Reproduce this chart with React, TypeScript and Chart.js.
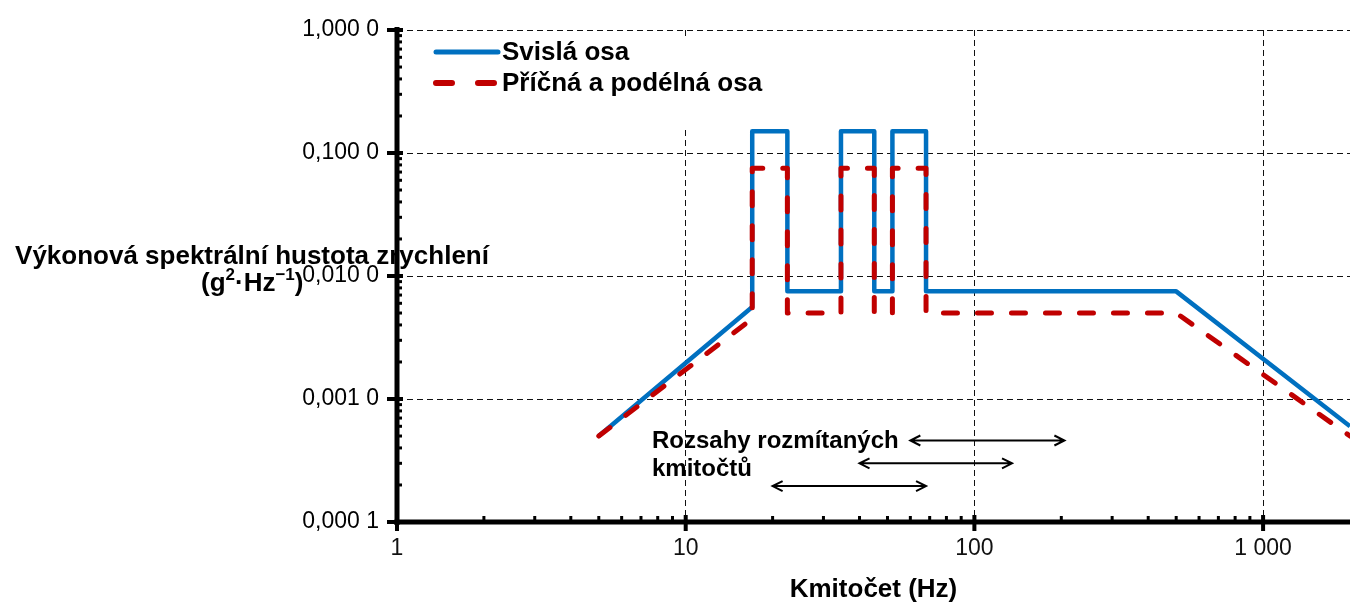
import React, { useEffect, useRef } from "react";
import { Chart, registerables } from "chart.js";

Chart.register(...registerables);

// ---- data ----
const freqHz = [5, 17, 17, 22.5, 22.5, 34.5, 34.5, 45, 45, 52, 52, 68, 68, 500, 2000];
const verticalPsd = [0.0005, 0.0056, 0.15, 0.15, 0.0075, 0.0075, 0.15, 0.15, 0.0075, 0.0075, 0.15, 0.15, 0.0075, 0.0075, 0.0006];
const transversePsd = [0.0005, 0.0045, 0.075, 0.075, 0.005, 0.005, 0.075, 0.075, 0.005, 0.005, 0.075, 0.075, 0.005, 0.005, 0.0005];
const seriesLabels = ["Svislá osa", "Příčná a podélná osa"];

const xTickValues = [1, 2, 3, 4, 5, 6, 7, 8, 9, 10, 20, 30, 40, 50, 60, 70, 80, 90, 100, 200, 300, 400, 500, 600, 700, 800, 900, 1000, 2000];
const xMajorValues = [1, 10, 100, 1000];
const xMajorLabels = ["1", "10", "100", "1 000"];
const yTickValues = [0.0001, 0.0002, 0.0003, 0.0004, 0.0005, 0.0006, 0.0007, 0.0008, 0.0009, 0.001, 0.002, 0.003, 0.004, 0.005, 0.006, 0.007, 0.008, 0.009, 0.01, 0.02, 0.03, 0.04, 0.05, 0.06, 0.07, 0.08, 0.09, 0.1, 0.2, 0.3, 0.4, 0.5, 0.6, 0.7, 0.8, 0.9, 1];
const yMajorValues = [0.0001, 0.001, 0.01, 0.1, 1];
const yMajorLabels = ["0,000 1", "0,001 0", "0,010 0", "0,100 0", "1,000 0"];

const sweepStartHz = [60, 40, 20];
const sweepEndHz = [205, 135, 68];
const sweepLevel = [0.00046, 0.0003, 0.000196];
const sweepText = ["Rozsahy rozmítaných", "kmitočtů"];

const xTitle = "Kmitočet (Hz)";
const yTitleLine1 = "Výkonová spektrální hustota zrychlení";
// second line pieces: [text, isSuperscript]
const yTitleLine2: [string, boolean][] = [["(g", false], ["2", true], ["·Hz", false], ["−1", true], [")", false]];

const BLUE = "#0070C0";
const RED = "#C00000";
const FONT = '"Liberation Sans", Arial, Helvetica, sans-serif';

const isMajor = (v: number, majors: number[]) => majors.some((m) => Math.abs(m - v) / m < 1e-9);

const decorPlugin = {
  id: "decor",
  beforeDatasetsDraw(chart: any) {
    const { ctx, chartArea } = chart;
    ctx.save();
    ctx.fillStyle = "#fff";
    ctx.fillRect(chartArea.left + 4, 36, 800 - chartArea.left - 4, 92);
    ctx.restore();
  },
  afterDatasetsDraw(chart: any) {
    const { ctx, chartArea } = chart;
    const xs = chart.scales.x;
    const ys = chart.scales.y;
    ctx.save();
    // axes
    ctx.fillStyle = "#000";
    ctx.fillRect(chartArea.left - 2.5, chartArea.top - 3, 5, chartArea.bottom - chartArea.top + 6);
    ctx.fillRect(chartArea.left - 2.5, chartArea.bottom - 2.5, chartArea.right - chartArea.left + 3, 5);
    // y ticks
    yTickValues.forEach((v) => {
      const py = ys.getPixelForValue(v);
      if (isMajor(v, yMajorValues)) {
        ctx.fillRect(chartArea.left - 10, py - 2, 16, 4);
      } else {
        ctx.fillRect(chartArea.left, py - 1.5, 5, 3);
      }
    });
    // x ticks
    xTickValues.forEach((v) => {
      const px = xs.getPixelForValue(v);
      if (px > chartArea.right - 2) return;
      if (isMajor(v, xMajorValues)) {
        ctx.fillRect(px - 2, chartArea.bottom - 7, 4, 16);
      } else {
        ctx.fillRect(px - 1.5, chartArea.bottom - 6, 3, 5);
      }
    });

    // legend
    const ds = chart.data.datasets;
    const rows = [52, 83];
    ds.forEach((d: any, i: number) => {
      const y = rows[i];
      ctx.save();
      ctx.strokeStyle = d.borderColor;
      ctx.lineWidth = i === 0 ? 5 : 6;
      ctx.lineCap = "round";
      ctx.setLineDash(i === 0 ? [] : [16, 26]);
      ctx.beginPath();
      ctx.moveTo(436, y);
      ctx.lineTo(498, y);
      ctx.stroke();
      ctx.restore();
      ctx.fillStyle = "#000";
      ctx.font = `bold 26px ${FONT}`;
      ctx.textAlign = "left";
      ctx.textBaseline = "middle";
      ctx.fillText(d.label, 502, y + 1);
    });

    // sweep annotation
    ctx.fillStyle = "#000";
    ctx.font = `bold 24px ${FONT}`;
    ctx.textAlign = "left";
    ctx.textBaseline = "alphabetic";
    ctx.fillText(sweepText[0], 652, 448);
    ctx.fillText(sweepText[1], 652, 476);
    ctx.strokeStyle = "#000";
    ctx.lineWidth = 2;
    sweepStartHz.forEach((f0, i) => {
      const x1 = xs.getPixelForValue(f0);
      const x2 = xs.getPixelForValue(sweepEndHz[i]);
      const y = ys.getPixelForValue(sweepLevel[i]);
      ctx.beginPath();
      ctx.moveTo(x1, y);
      ctx.lineTo(x2, y);
      ctx.moveTo(x1 + 10, y - 5);
      ctx.lineTo(x1, y);
      ctx.lineTo(x1 + 10, y + 5);
      ctx.moveTo(x2 - 10, y - 5);
      ctx.lineTo(x2, y);
      ctx.lineTo(x2 - 10, y + 5);
      ctx.stroke();
    });

    // axis titles
    ctx.font = `bold 26px ${FONT}`;
    ctx.textAlign = "center";
    ctx.fillText(xTitle, (chartArea.left + chartArea.right) / 2, 597);
    ctx.fillText(yTitleLine1, 252, 264);
    ctx.textAlign = "left";
    let x = 201;
    yTitleLine2.forEach(([t, sup]) => {
      ctx.font = sup ? `bold 17px ${FONT}` : `bold 26px ${FONT}`;
      ctx.fillText(t, x, sup ? 280 : 291);
      x += ctx.measureText(t).width;
    });
    ctx.restore();
  },
};

export default function App() {
  const ref = useRef<HTMLCanvasElement | null>(null);
  useEffect(() => {
    if (!ref.current) return;
    const gridColor = (c: any, majors: number[]) =>
      c.tick && isMajor(c.tick.value, majors) ? "#111" : "rgba(0,0,0,0)";
    const chart = new Chart(ref.current, {
      type: "line",
      data: {
        datasets: [
          {
            label: seriesLabels[0],
            data: freqHz.map((f, i) => ({ x: f, y: verticalPsd[i] })),
            borderColor: BLUE,
            borderWidth: 4.5,
            borderJoinStyle: "round",
            pointRadius: 0,
            tension: 0,
            fill: false,
            order: 1,
          },
          {
            label: seriesLabels[1],
            data: freqHz.map((f, i) => ({ x: f, y: transversePsd[i] })),
            borderColor: RED,
            borderWidth: 5,
            borderDash: [14, 20],
            borderCapStyle: "round",
            borderJoinStyle: "round",
            pointRadius: 0,
            tension: 0,
            fill: false,
            order: 0,
          },
        ],
      },
      options: {
        animation: false,
        responsive: true,
        maintainAspectRatio: false,
        layout: { padding: { top: 30, right: 0, left: 0, bottom: 0 } },
        plugins: { legend: { display: false }, tooltip: { enabled: false }, title: { display: false } },
        scales: {
          x: {
            type: "logarithmic",
            min: 1,
            max: 2000,
            afterBuildTicks: (s: any) => {
              s.ticks = xTickValues.map((v) => ({ value: v }));
            },
            afterFit: (s: any) => {
              s.height = 83;
              s.paddingLeft = 0;
              s.paddingRight = 0;
            },
            ticks: {
              autoSkip: false,
              maxRotation: 0,
              padding: 13,
              color: "#111",
              font: { family: FONT, size: 23 },
              callback: (v: any) => {
                const idx = xMajorValues.findIndex((m) => Math.abs(m - Number(v)) / m < 1e-9);
                return idx >= 0 ? xMajorLabels[idx] : "";
              },
            },
            grid: {
              color: (c: any) => gridColor(c, xMajorValues),
              lineWidth: 1,
              drawTicks: false,
            },
            border: { display: false, dash: [6, 4] },
          },
          y: {
            type: "logarithmic",
            min: 0.0001,
            max: 1,
            afterBuildTicks: (s: any) => {
              s.ticks = yTickValues.map((v) => ({ value: v }));
            },
            afterFit: (s: any) => {
              s.width = 397;
              s.paddingTop = 0;
              s.paddingBottom = 0;
            },
            ticks: {
              autoSkip: false,
              padding: 18,
              color: "#000",
              font: { family: FONT, size: 23 },
              callback: (v: any) => {
                const idx = yMajorValues.findIndex((m) => Math.abs(m - Number(v)) / m < 1e-9);
                return idx >= 0 ? yMajorLabels[idx] : "";
              },
            },
            grid: {
              color: (c: any) => gridColor(c, yMajorValues),
              lineWidth: 1,
              drawTicks: false,
            },
            border: { display: false, dash: [6, 4] },
          },
        },
      },
      plugins: [decorPlugin],
    } as any);
    return () => chart.destroy();
  }, []);
  return (
    <div style={{ position: "fixed", left: 0, top: 0, width: 1350, height: 605, background: "#fff" }}>
      <canvas ref={ref} />
    </div>
  );
}
